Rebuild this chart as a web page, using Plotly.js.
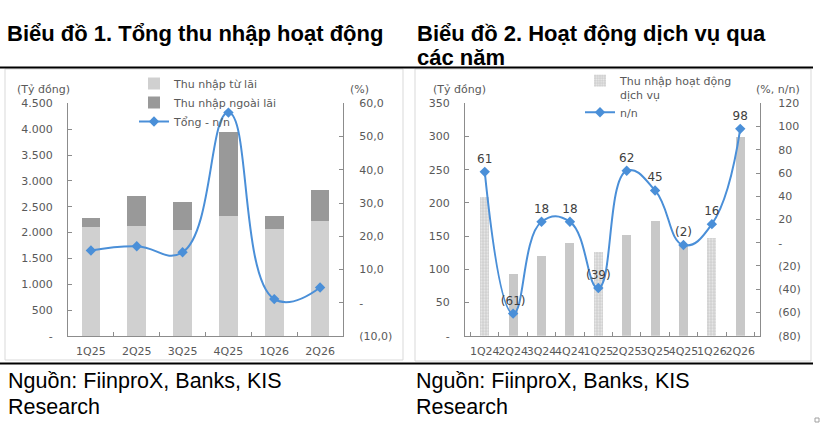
<!DOCTYPE html>
<html>
<head>
<meta charset="utf-8">
<script src="https://cdn.plot.ly/plotly-3.0.1.min.js"></script>
<style>
  html, body { margin: 0; padding: 0; background: #fff; }
  #chart { width: 820px; height: 426px; }
</style>
</head>
<body>
<div id="chart"></div>
<script>
// Chart 1 - total operating income
const quarters1 = ['1Q25', '2Q25', '3Q25', '4Q25', '1Q26', '2Q26'];
const interestIncome = [2114, 2127, 2057, 2327, 2069, 2231];
const nonInterestIncome = [168, 581, 528, 1619, 245, 599];
const totalYoY = [15.7, 17.0, 15.2, 57.2, 1.1, 4.6];

// Chart 2 - service income
const quarters2 = ['1Q24', '2Q24', '3Q24', '4Q24', '1Q25', '2Q25', '3Q25', '4Q25', '1Q26', '2Q26'];
const serviceIncome = [209, 93, 120, 139, 126, 152, 173, 135, 147, 299];
const serviceYoY = [61, -61, 18, 18, -39, 62, 45, -2, 16, 98];

const W = 820, H = 426;
function px(x) { return x / W; }
function py(y) { return 1 - y / H; }

const tickFont = { family: 'DejaVu Sans', size: 11, color: '#595959' };
const blue = '#4a8fd8';
const axisGray = '#8c8c8c';

function fmtThousands(v) {
  if (v === 0) return '-';
  return String(v).replace(/\B(?=(\d{3})+(?!\d))/g, '.');
}
function fmtPct(v) {
  if (v === 0) return '-';
  let s = Math.abs(v).toFixed(1).replace('.', ',');
  return v < 0 ? '(' + s + ')' : s;
}
function fmtInt(v) {
  if (v === 0) return '-';
  return v < 0 ? '(' + Math.abs(v) + ')' : String(v);
}
function ticks(from, to, step) {
  let out = [];
  for (let v = from; v <= to; v += step) out.push(v);
  return out;
}

let t1 = ticks(0, 4500, 500), t2 = ticks(-10, 60, 10);
let t3 = ticks(0, 350, 50), t4 = ticks(-80, 120, 20);

var data = [
  {
    type: 'bar', name: 'Thu nhập từ lãi', x: quarters1, y: interestIncome,
    xaxis: 'x', yaxis: 'y', width: 0.41,
    marker: { color: '#d0d0d0' }, legend: 'legend', hoverinfo: 'skip'
  },
  {
    type: 'bar', name: 'Thu nhập ngoài lãi', x: quarters1, y: nonInterestIncome,
    xaxis: 'x', yaxis: 'y', width: 0.41,
    marker: { color: '#999999' }, legend: 'legend', hoverinfo: 'skip'
  },
  {
    type: 'scatter', mode: 'lines+markers', name: 'Tổng - n/n', x: quarters1, y: totalYoY,
    xaxis: 'x', yaxis: 'y2',
    line: { color: blue, width: 2, shape: 'spline', smoothing: 1.3 },
    marker: { symbol: 'diamond', size: 8, color: blue }, legend: 'legend', hoverinfo: 'skip'
  },
  {
    type: 'bar', name: 'Thu nhập hoạt động<br>dịch vụ', x: quarters2, y: serviceIncome,
    xaxis: 'x2', yaxis: 'y3', width: 0.32,
    marker: {
      color: '#c8c8c8',
      pattern: {
        shape: quarters2.map(q => q.startsWith('1Q') ? '.' : ''),
        bgcolor: '#d0d0d0', fgcolor: '#eaeaea', size: 3, solidity: 0.4
      }
    },
    legend: 'legend2', hoverinfo: 'skip'
  },
  {
    type: 'scatter', mode: 'lines+markers+text', name: 'n/n', x: quarters2, y: serviceYoY,
    xaxis: 'x2', yaxis: 'y4',
    text: serviceYoY.map(fmtInt), textposition: 'top center',
    textfont: { family: 'DejaVu Sans', size: 12, color: '#404040' },
    line: { color: blue, width: 2, shape: 'spline', smoothing: 1.3 },
    marker: { symbol: 'diamond', size: 8, color: blue }, legend: 'legend2', hoverinfo: 'skip'
  }
];

const xBase = {
  type: 'category', showline: true, linecolor: axisGray, linewidth: 1,
  ticks: 'inside', tickson: 'boundaries', ticklen: 4, tickcolor: axisGray,
  showgrid: false, zeroline: false, tickfont: tickFont, ticklabelstandoff: 5,
  tickangle: 0, fixedrange: true
};
const yBase = {
  showline: true, linecolor: axisGray, linewidth: 1,
  ticks: 'inside', ticklen: 4, tickcolor: axisGray,
  showgrid: false, zeroline: false, tickfont: tickFont, fixedrange: true
};

function note(text, x, y, opts) {
  return Object.assign({
    text, x: px(x), y: py(y), xref: 'paper', yref: 'paper',
    showarrow: false, xanchor: 'left', yanchor: 'middle', font: tickFont
  }, opts || {});
}
const titleFont = { family: "'Liberation Sans', Arial, sans-serif", size: 22, color: '#000000' };
const sourceFont = { family: "'Liberation Sans', Arial, sans-serif", size: 21.5, color: '#000000' };

var layout = {
  width: W, height: H,
  margin: { l: 0, r: 0, t: 0, b: 0 },
  paper_bgcolor: '#ffffff', plot_bgcolor: 'rgba(0,0,0,0)',
  font: tickFont,
  barmode: 'stack',
  hovermode: false,
  xaxis: Object.assign({}, xBase, { domain: [px(68), px(343)], anchor: 'y' }),
  yaxis: Object.assign({}, yBase, {
    domain: [py(336), py(103.3)], anchor: 'x', range: [0, 4500],
    tickvals: t1, ticktext: t1.map(fmtThousands), ticklabelstandoff: 12
  }),
  yaxis2: Object.assign({}, yBase, {
    overlaying: 'y', side: 'right', anchor: 'x', range: [-10, 60],
    tickvals: t2, ticktext: t2.map(fmtPct), ticklabelstandoff: 13
  }),
  xaxis2: Object.assign({}, xBase, { domain: [px(465), px(760)], anchor: 'y3' }),
  yaxis3: Object.assign({}, yBase, {
    domain: [py(335.7), py(103.3)], anchor: 'x2', range: [0, 350],
    tickvals: t3, ticktext: t3.map(fmtThousands), ticklabelstandoff: 12
  }),
  yaxis4: Object.assign({}, yBase, {
    overlaying: 'y3', side: 'right', anchor: 'x2', range: [-80, 120],
    tickvals: t4, ticktext: t4.map(fmtInt), ticklabelstandoff: 15
  }),
  showlegend: true,
  legend: {
    x: px(134), y: py(69), xanchor: 'left', yanchor: 'top',
    bgcolor: 'rgba(0,0,0,0)', font: tickFont, traceorder: 'normal',
    itemwidth: 30, tracegroupgap: 0
  },
  legend2: {
    x: px(580), y: py(67), xanchor: 'left', yanchor: 'top',
    bgcolor: 'rgba(0,0,0,0)', font: tickFont, traceorder: 'normal',
    itemwidth: 30, tracegroupgap: 0, valign: 'top'
  },
  shapes: [
    // panel frames
    { type: 'rect', xref: 'paper', yref: 'paper', x0: px(5), x1: px(403), y0: py(360), y1: py(69),
      line: { color: '#d9d9d9', width: 1 } },
    { type: 'rect', xref: 'paper', yref: 'paper', x0: px(415), x1: px(811), y0: py(361), y1: py(69),
      line: { color: '#d9d9d9', width: 1 } },
    // black rules
    { type: 'line', xref: 'paper', yref: 'paper', x0: 0, x1: px(813), y0: py(67.5), y1: py(67.5),
      line: { color: '#000000', width: 2 } },
    { type: 'line', xref: 'paper', yref: 'paper', x0: 0, x1: px(813), y0: py(363.5), y1: py(363.5),
      line: { color: '#000000', width: 2 } },
    // little handle bottom right
    { type: 'rect', xref: 'paper', yref: 'paper', x0: px(815), x1: px(819), y0: py(422), y1: py(418),
      line: { color: '#a0a0a0', width: 1 } }
  ],
  annotations: [
    note('<b>Biểu đồ 1. Tổng thu nhập hoạt động</b>', 5, 33, { font: titleFont }),
    note('<b>Biểu đồ 2. Hoạt động dịch vụ qua</b>', 415, 33, { font: titleFont }),
    note('<b>các năm</b>', 415, 57, { font: titleFont }),
    note('Nguồn: FiinproX, Banks, KIS', 6, 381, { font: sourceFont }),
    note('Research', 6, 406.5, { font: sourceFont }),
    note('Nguồn: FiinproX, Banks, KIS', 414, 381, { font: sourceFont }),
    note('Research', 414, 406.5, { font: sourceFont }),
    note('(Tỷ đồng)', 15, 89),
    note('(%)', 348, 89),
    note('(Tỷ đồng)', 431, 89),
    note('(%, n/n)', 754, 89)
  ]
};

Plotly.newPlot('chart', data, layout, { displayModeBar: false, staticPlot: true });
</script>
</body>
</html>
